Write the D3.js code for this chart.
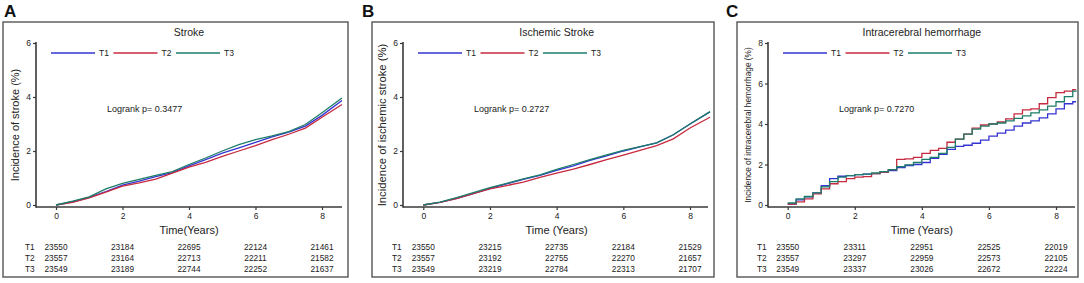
<!DOCTYPE html>
<html>
<head>
<meta charset="utf-8">
<script src="https://cdn.jsdelivr.net/npm/d3@7"></script>
<style>
  body { margin: 0; background: #fff; }
  svg { display: block; font-family: "Liberation Sans", Arial, sans-serif; }
</style>
</head>
<body>
<svg id="chart" width="1084" height="283"></svg>
<script>
// ---------------- DATA ----------------
const seriesNames = ["T1", "T2", "T3"];
const panelLetters = ["A", "B", "C"];
const panelTitles = ["Stroke", "Ischemic Stroke", "Intracerebral hemorrhage"];
const yAxisTitles = ["Incidence of stroke (%)", "Incidence of ischemic stroke (%)", "Incidence of intracerebral hemorrhage (%)"];
const xAxisTitles = ["Time(Years)", "Time (Years)", "Time (Years)"];
const logrankTexts = ["Logrank p= 0.3477", "Logrank p= 0.2727", "Logrank p= 0.7270"];
const xTicks = [0, 2, 4, 6, 8];
const yTicksAB = [0, 2, 4, 6];
const yTicksC = [0, 2, 4, 6, 8];

// Panel A / B : time grid (years)
const timeAB = [0, 0.5, 1, 1.5, 2, 2.5, 3, 3.5, 4, 4.5, 5, 5.5, 6, 6.5, 7, 7.5, 8, 8.6];
const strokeT1 = [0, 0.12, 0.28, 0.5, 0.74, 0.88, 1.05, 1.2, 1.45, 1.68, 1.92, 2.12, 2.32, 2.52, 2.7, 2.92, 3.32, 3.87];
const strokeT2 = [0, 0.1, 0.26, 0.48, 0.7, 0.82, 0.96, 1.18, 1.4, 1.58, 1.8, 2.0, 2.2, 2.42, 2.62, 2.85, 3.25, 3.72];
const strokeT3 = [0, 0.14, 0.3, 0.6, 0.8, 0.95, 1.1, 1.24, 1.5, 1.74, 2.0, 2.24, 2.42, 2.56, 2.72, 2.98, 3.42, 3.96];

const ischT1 = [0, 0.1, 0.25, 0.42, 0.62, 0.78, 0.95, 1.1, 1.28, 1.45, 1.65, 1.82, 2.0, 2.15, 2.3, 2.6, 3.0, 3.45];
const ischT2 = [0, 0.1, 0.24, 0.42, 0.6, 0.72, 0.85, 1.02, 1.18, 1.33, 1.5, 1.68, 1.85, 2.02, 2.2, 2.45, 2.85, 3.25];
const ischT3 = [0, 0.11, 0.27, 0.46, 0.64, 0.8, 0.97, 1.12, 1.32, 1.5, 1.68, 1.86, 2.02, 2.16, 2.3, 2.6, 3.0, 3.46];

// Panel C : step curve, time grid 0.25 years
const timeC = [0, 0.25, 0.5, 0.75, 1, 1.25, 1.5, 1.75, 2, 2.25, 2.5, 2.75, 3, 3.25, 3.5, 3.75, 4, 4.25, 4.5, 4.75, 5, 5.25, 5.5, 5.75, 6, 6.25, 6.5, 6.75, 7, 7.25, 7.5, 7.75, 8, 8.25, 8.5, 8.6];
const ichT1 = [0.05, 0.25, 0.4, 0.6, 0.95, 1.3, 1.42, 1.45, 1.5, 1.52, 1.55, 1.62, 1.7, 1.85, 1.95, 2.0, 2.1, 2.3, 2.5, 2.75, 2.9, 2.95, 3.05, 3.2, 3.4, 3.55, 3.7, 3.9, 4.05, 4.15, 4.3, 4.5, 4.75, 5.0, 5.1, 5.1];
const ichT2 = [0.05, 0.15, 0.3, 0.55, 0.8, 1.05, 1.15, 1.3, 1.38, 1.4, 1.55, 1.62, 1.75, 2.25, 2.28, 2.35, 2.55, 2.7, 2.8, 3.1, 3.25, 3.5, 3.8, 3.95, 4.0, 4.1, 4.25, 4.5, 4.7, 4.75, 5.0, 5.3, 5.55, 5.62, 5.7, 5.7];
const ichT3 = [0.1, 0.3, 0.42, 0.6, 0.9, 1.15, 1.38, 1.45, 1.5, 1.52, 1.58, 1.65, 1.75, 1.9, 1.98, 2.1, 2.25, 2.35, 2.55, 2.85, 3.25, 3.5, 3.75, 3.9, 4.0, 4.05, 4.15, 4.28, 4.4, 4.55, 4.7, 4.88, 5.1, 5.35, 5.62, 5.65];

// Number at risk (at years 0,2,4,6,8)
const riskA = [[23550, 23184, 22695, 22124, 21461], [23557, 23164, 22713, 22211, 21582], [23549, 23189, 22744, 22252, 21637]];
const riskB = [[23550, 23215, 22735, 22184, 21529], [23557, 23192, 22755, 22270, 21657], [23549, 23219, 22784, 22313, 21707]];
const riskC = [[23550, 23311, 22951, 22525, 22019], [23557, 23297, 22959, 22573, 22105], [23549, 23337, 23026, 22672, 22224]];

// ---------------- LAYOUT / STYLE ----------------
const colors = ["#3434d2", "#c62a3e", "#1d7d68"];
const panels = [
  { letterX: 4, box: [3, 22, 348, 277], yAxisX: 36, x0: 56, x8: 322, xEnd: 342, yMax: 6, yTicks: yTicksAB,
    time: timeAB, series: [strokeT1, strokeT2, strokeT3], step: false, risk: riskA, ylabX: 15, ylabSize: 11, riskLabX: 25 },
  { letterX: 362, box: [372, 22, 714, 277], yAxisX: 403, x0: 423.3, x8: 690, xEnd: 708, yMax: 6, yTicks: yTicksAB,
    time: timeAB, series: [ischT1, ischT2, ischT3], step: false, risk: riskB, ylabX: 382, ylabSize: 11.3, riskLabX: 392 },
  { letterX: 726, box: [737, 22, 1078, 277], yAxisX: 768, x0: 787.7, x8: 1056, xEnd: 1075, yMax: 8, yTicks: yTicksC,
    time: timeC, series: [ichT1, ichT2, ichT3], step: true, risk: riskC, ylabX: 748, ylabSize: 8.3, riskLabX: 757 }
];

const svg = d3.select("#chart");
const axisColor = "#3a3a3a";

panels.forEach((p, i) => {
  const g = svg.append("g");
  const [bx0, by0, bx1, by1] = p.box;
  g.append("rect").attr("x", bx0).attr("y", by0).attr("width", bx1 - bx0).attr("height", by1 - by0)
    .attr("fill", "none").attr("stroke", "#555").attr("stroke-width", 1.4);

  g.append("text").attr("x", p.letterX).attr("y", 17).attr("font-size", 17).attr("font-weight", "bold")
    .attr("fill", "#111").text(panelLetters[i]);

  const x = d3.scaleLinear().domain([0, 8]).range([p.x0, p.x8]);
  const y = d3.scaleLinear().domain([0, p.yMax]).range([205, 43]);

  // title
  g.append("text").attr("x", x(4)).attr("y", 36).attr("text-anchor", "middle").attr("font-size", 10.5)
    .attr("fill", "#222").text(panelTitles[i]);

  // axes
  const xAxis = g.append("g").attr("transform", "translate(0,207)")
    .call(d3.axisBottom(x).tickValues(xTicks).tickFormat(d3.format("d")).tickSize(3).tickPadding(3));
  xAxis.select(".domain").remove();
  xAxis.selectAll("line").attr("stroke", axisColor).attr("stroke-width", 1.2);
  xAxis.selectAll("text").attr("font-size", 8.5).attr("fill", "#222").attr("font-family", "Liberation Sans, Arial, sans-serif");
  g.append("line").attr("x1", p.yAxisX).attr("x2", p.xEnd).attr("y1", 207).attr("y2", 207)
    .attr("stroke", axisColor).attr("stroke-width", 1.6);

  const yAxis = g.append("g").attr("transform", `translate(${p.yAxisX},0)`)
    .call(d3.axisLeft(y).tickValues(p.yTicks).tickFormat(d3.format("d")).tickSize(3).tickPadding(2));
  yAxis.select(".domain").remove();
  yAxis.selectAll("line").attr("stroke", axisColor).attr("stroke-width", 1.2);
  yAxis.selectAll("text").attr("font-size", 8.5).attr("fill", "#222").attr("font-family", "Liberation Sans, Arial, sans-serif");
  g.append("line").attr("x1", p.yAxisX).attr("x2", p.yAxisX).attr("y1", 42).attr("y2", 207.8)
    .attr("stroke", axisColor).attr("stroke-width", 1.6);

  // axis titles
  g.append("text").attr("x", x(4)).attr("y", 234).attr("text-anchor", "middle").attr("font-size", 11)
    .attr("fill", "#222").text(xAxisTitles[i]);
  g.append("text").attr("transform", `translate(${p.ylabX + p.ylabSize * 0.35},125) rotate(-90)`)
    .attr("text-anchor", "middle").attr("font-size", p.ylabSize).attr("fill", "#222").text(yAxisTitles[i]);

  // legend
  const legX = p.yAxisX + 15;
  seriesNames.forEach((s, k) => {
    const lx = legX + k * 62.5;
    g.append("line").attr("x1", lx).attr("x2", lx + 44).attr("y1", 53).attr("y2", 53)
      .attr("stroke", colors[k]).attr("stroke-width", 1.3);
    g.append("text").attr("x", lx + 48).attr("y", 56).attr("font-size", 8.5).attr("fill", "#222").text(s);
  });

  // logrank
  g.append("text").attr("x", p.yAxisX + 71).attr("y", 112).attr("font-size", 9).attr("fill", "#222").text(logrankTexts[i]);

  // curves
  const line = d3.line().x(d => x(d[0])).y(d => y(d[1]))
    .curve(p.step ? d3.curveStepAfter : d3.curveLinear);
  p.series.forEach((vals, k) => {
    const pts = p.time.map((t, j) => [t, vals[j]]);
    g.append("path").datum(pts).attr("d", line).attr("fill", "none")
      .attr("stroke", colors[k]).attr("stroke-width", 1.3);
  });

  // risk table
  const rowY = [250, 261, 272];
  seriesNames.forEach((s, k) => {
    g.append("text").attr("x", p.riskLabX).attr("y", rowY[k]).attr("font-size", 8.3).attr("fill", "#222").text(s);
    p.risk[k].forEach((v, j) => {
      g.append("text").attr("x", x(xTicks[j])).attr("y", rowY[k]).attr("text-anchor", "middle")
        .attr("font-size", 8.3).attr("fill", "#222").text(v);
    });
  });
});
</script>
</body>
</html>
